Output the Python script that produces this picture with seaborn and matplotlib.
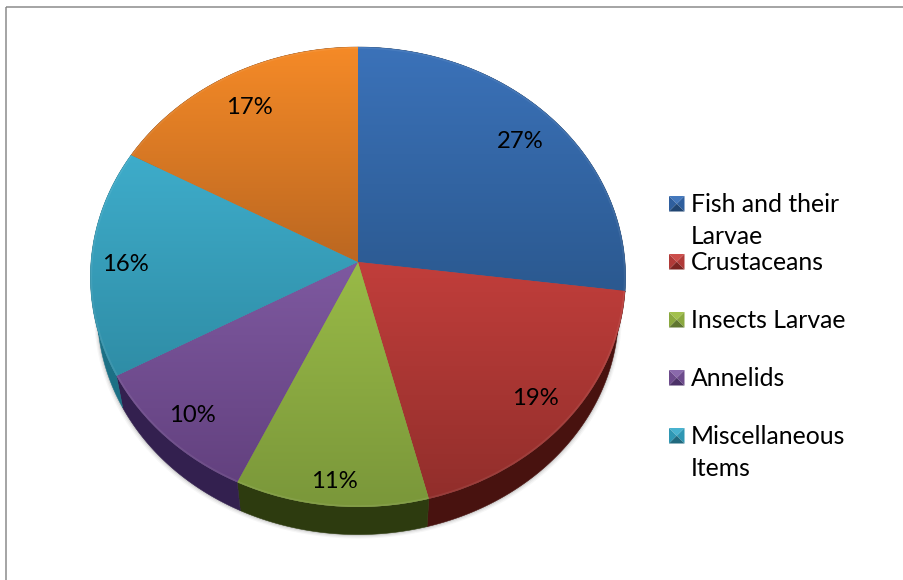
import numpy as np
import seaborn as sns
import matplotlib
matplotlib.use("Agg")
import matplotlib.pyplot as plt
from matplotlib.colors import to_rgb
from matplotlib.patches import Rectangle
from matplotlib.transforms import Affine2D, Bbox, Transform

# Diet composition shares, clockwise from twelve o'clock
shares = [27, 19, 11, 10, 16, 17]
legend_labels = ["Fish and their\nLarvae", "Crustaceans", "Insects Larvae",
                 "Annelids", "Miscellaneous\nItems"]

# Per-slice face gradient and side wall colours
face_light = ["#3B72B9", "#C13E3B", "#99BA47", "#7E59A0", "#3EACCA", "#F58A27"]
face_dark = ["#2B5990", "#912E2B", "#7A973A", "#63417F", "#2F8DA6", "#BB6721"]
wall_color = ["#1D3A60", "#48120F", "#2D3B0F", "#33204F", "#1C7085", "#8A4A14"]
marker_mid = ["#2F5F9E", "#B03A38", "#8AA83F", "#6D4B8C", "#2F97B3"]
marker_top = ["#4478BC", "#CC4E4B", "#A2C04D", "#8A69AB", "#48B2CF"]
marker_low = ["#204572", "#7C2422", "#5F7630", "#4B3168", "#20697E"]

# Radial position of each percentage label within its slice
label_reach = [0.84, 0.855, 0.895, 0.87, 0.87, 0.835]

FIG_W, FIG_H = 904, 580
APEX_X, APEX_Y = 358.0, 262.0
RADIUS_X = 267.0
RADIUS_Y = -211.9
TILT = 0.0652


class DiscProjection(Transform):
    """Maps the unit pie disc onto the tilted plane, in pixel coordinates."""
    input_dims = 2
    output_dims = 2
    is_separable = False
    has_inverse = False

    def transform_non_affine(self, values):
        values = np.asarray(values, dtype=float)
        u, v = values[:, 0], values[:, 1]
        w = 1 + TILT * v
        return np.column_stack([APEX_X + RADIUS_X * u / w,
                                (APEX_Y + RADIUS_Y * v) / w])


def lower_ring(points):
    """Underside of the disc: smaller and shifted down."""
    x = APEX_X + (points[:, 0] - APEX_X) * 0.974
    y = 312.0 + (points[:, 1] - 277.0) * 0.968
    return np.column_stack([x, y])


sns.set_theme(style="white")
plt.rcParams["font.family"] = ["Lato", "DejaVu Sans"]

fig = plt.figure(figsize=(FIG_W / 100, FIG_H / 100), dpi=100, facecolor="white")
ax = fig.add_axes([0, 0, 1, 1])

wedges, _, pct_texts = ax.pie(shares, startangle=90, counterclock=False,
                              autopct="%.0f%%", pctdistance=0.85,
                              colors=face_dark,
                              wedgeprops={"linewidth": 0},
                              textprops={"fontsize": 17.2, "color": "black"})
ax.set_aspect("auto")

projection = DiscProjection()
to_canvas = projection + ax.transData
to_label = projection + Affine2D().translate(0, 2.5) + ax.transData

# Soft shadow under the disc
circle = np.linspace(0, 2 * np.pi, 400)
ring = projection.transform(np.column_stack([np.cos(circle), np.sin(circle)]))
under = lower_ring(ring)
for offset, grow, alpha in [(4.0, 1.012, 0.05), (2.8, 1.008, 0.08), (1.5, 1.004, 0.14)]:
    ax.fill(APEX_X + (under[:, 0] - APEX_X) * grow, under[:, 1] + offset,
            color="#555555", alpha=alpha, lw=0, zorder=1)

for i, wedge in enumerate(wedges):
    # Side wall between the rim and the underside
    start, stop = sorted((wedge.theta1, wedge.theta2))
    arc = np.radians(np.linspace(start, stop, 120))
    rim = projection.transform(np.column_stack([np.cos(arc), np.sin(arc)]))
    wall = np.vstack([rim, lower_ring(rim)[::-1]])
    ax.fill(wall[:, 0], wall[:, 1], color=wall_color[i], lw=0.4,
            edgecolor=wall_color[i], zorder=2)

    # Top face with a vertical sheen, clipped to the slice
    wedge.set_transform(to_canvas)
    wedge.set_zorder(3)
    outline = projection.transform(wedge.get_path().vertices)
    box = Bbox.from_extents(outline[:, 0].min(), outline[:, 1].min(),
                            outline[:, 0].max(), outline[:, 1].max())
    ramp = np.linspace(0, 1, 128)[:, None, None]
    shade = (1 - ramp) * np.array(to_rgb(face_light[i])) + ramp * np.array(to_rgb(face_dark[i]))
    image = ax.imshow(shade, extent=(box.x0, box.x1, box.y1, box.y0),
                      origin="upper", aspect="auto", interpolation="bilinear", zorder=4)
    image.set_clip_path(wedge)

    # Faint bevelled rim
    line, = ax.plot(rim[:, 0], rim[:, 1], color="white", lw=2.5, alpha=0.07,
                    solid_capstyle="butt", zorder=5)
    line.set_clip_path(wedge)

    # Percentage label placed along the slice's middle direction
    middle = np.radians((start + stop) / 2)
    pct_texts[i].set_position((label_reach[i] * np.cos(middle),
                               label_reach[i] * np.sin(middle)))
    pct_texts[i].set_transform(to_label)
    pct_texts[i].set_zorder(7)

# Legend: bevelled square markers with wrapped labels
BOX_X, BOX_SIZE, TEXT_X = 669.0, 15.5, 691.0
for i, label in enumerate(legend_labels):
    top = 196.0 + i * 58.0
    left, right, low = BOX_X, BOX_X + BOX_SIZE, top + BOX_SIZE
    cx, cy = BOX_X + BOX_SIZE / 2, top + BOX_SIZE / 2
    ax.fill([left, right, cx], [top, top, cy], color=marker_top[i], lw=0, zorder=6)
    ax.fill([left, left, cx], [top, low, cy], color=marker_mid[i], lw=0, zorder=6)
    ax.fill([right, right, cx], [top, low, cy], color=marker_mid[i], lw=0, zorder=6)
    ax.fill([left, right, cx], [low, low, cy], color=marker_low[i], lw=0, zorder=6)
    ax.text(TEXT_X, top - 3.0, label, fontsize=17.8, color="black", ha="left", va="top",
            linespacing=1.49, zorder=7)

# Chart area frame; its right and bottom sides run past the canvas
ax.add_patch(Rectangle((6.5, 6.5), FIG_W + 20, FIG_H + 20, fill=False,
                       edgecolor="#8C8C8C", linewidth=1.1, zorder=0))

ax.set_xlim(0, FIG_W)
ax.set_ylim(FIG_H, 0)
ax.set_axis_off()

fig.savefig("out.png", dpi=100, facecolor="white")
